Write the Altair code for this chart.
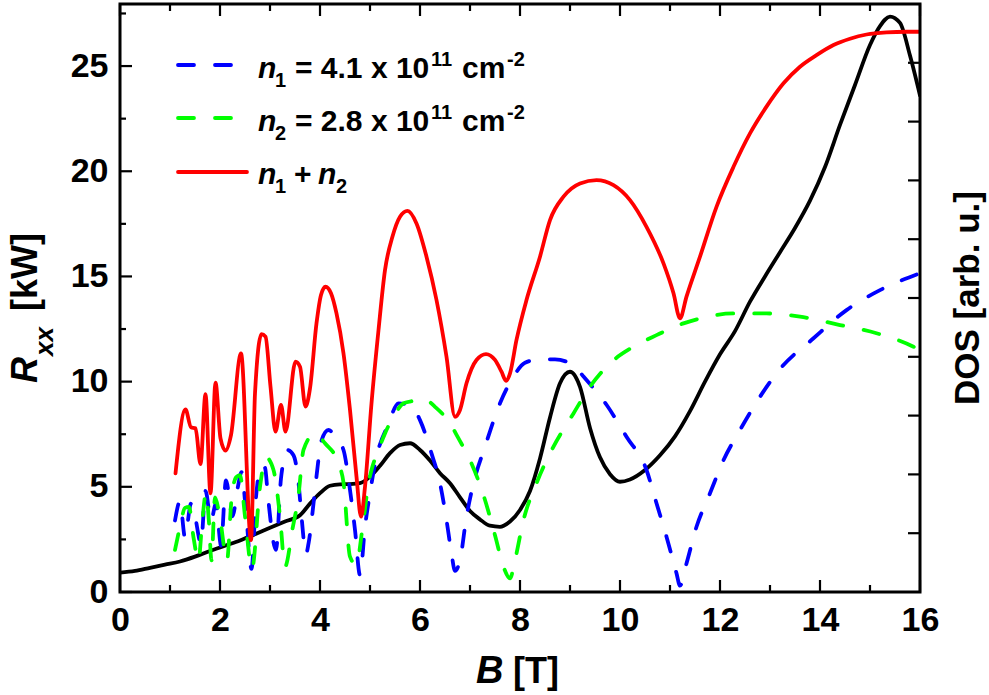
import altair as alt
import pandas as pd

# ---------------- data ----------------
black_B = [0.0, 0.3, 0.6, 0.9, 1.2, 1.5, 1.8, 2.1, 2.4, 2.7, 3.0, 3.3, 3.6, 3.8, 4.0, 4.2, 4.4, 4.6,
           4.8, 5.0, 5.2, 5.4, 5.6, 5.8, 6.0, 6.2, 6.4, 6.6, 6.8, 7.0, 7.2, 7.4, 7.6, 7.8, 8.0, 8.2,
           8.4, 8.6, 8.8, 9.0, 9.2, 9.4, 9.6, 9.8, 10.0, 10.2, 10.5, 10.8, 11.1, 11.4, 11.7, 12.0,
           12.3, 12.6, 12.9, 13.2, 13.5, 13.8, 14.1, 14.4, 14.7, 15.0, 15.2, 15.4, 15.6, 15.8, 16.0]
black_R = [0.92, 1.0, 1.15, 1.3, 1.45, 1.68, 1.95, 2.2, 2.45, 2.75, 3.05, 3.35, 3.65, 4.2, 4.7, 5.05,
           5.12, 5.13, 5.17, 5.48, 6.0, 6.6, 6.99, 7.07, 6.75, 6.25, 5.65, 5.17, 4.5, 3.85, 3.45,
           3.15, 3.1, 3.35, 3.9, 4.8, 6.35, 8.3, 9.92, 10.47, 9.75, 7.8, 6.4, 5.6, 5.24, 5.35, 5.8,
           6.5, 7.4, 8.6, 10.0, 11.3, 12.4, 13.8, 15.0, 16.15, 17.3, 18.6, 20.2, 22.2, 24.1, 26.0,
           26.9, 27.35, 27.05, 25.5, 23.6]

red_B = [1.11, 1.31, 1.42, 1.51, 1.61, 1.71, 1.81, 1.91, 2.01, 2.11, 2.22, 2.42, 2.62, 2.70, 2.83,
         2.91, 3.01, 3.11, 3.22, 3.31, 3.51, 3.60, 3.71, 3.80, 3.93, 4.02, 4.11, 4.22, 4.33, 4.47,
         4.60, 4.73, 4.82, 4.90, 5.03, 5.17, 5.30, 5.45, 5.60, 5.75, 5.93, 6.13, 6.33, 6.53, 6.70,
         6.80, 6.93, 7.13, 7.32, 7.50, 7.63, 7.72, 7.80, 7.93, 8.13, 8.40, 8.60, 8.87, 9.20, 9.53,
         9.87, 10.20, 10.53, 10.87, 11.07, 11.20, 11.33, 11.60, 11.93, 12.27, 12.60, 12.93, 13.27,
         13.60, 13.93, 14.27, 14.60, 14.93, 15.33, 15.73, 16.0]
red_R = [5.64, 8.68, 7.83, 7.78, 6.08, 9.41, 4.69, 9.95, 7.30, 6.72, 7.46, 11.34, 2.47, 9.44, 12.26,
         12.14, 9.76, 7.62, 8.89, 7.62, 10.95, 10.71, 8.81, 9.68, 12.77, 14.12, 14.51, 14.2, 13.24,
         11.34, 8.65, 5.48, 3.58, 5.0, 8.97, 12.45, 15.3, 16.9, 17.84, 18.12, 17.52, 15.94, 13.88,
         11.18, 8.33, 8.65, 9.92, 11.03, 11.31, 11.03, 10.47, 10.04, 10.39, 11.98, 13.88, 15.94,
         17.68, 18.79, 19.42, 19.58, 19.34, 18.63, 17.36, 15.62, 14.2, 13.01, 14.04, 15.94, 18.31,
         20.21, 21.8, 23.07, 24.18, 24.97, 25.52, 26.0, 26.3, 26.5, 26.6, 26.63, 26.63]

blue_B = [1.10, 1.20, 1.30, 1.42, 1.50, 1.62, 1.71, 1.82, 1.92, 2.02, 2.12, 2.25, 2.35, 2.43, 2.52,
          2.63, 2.72, 2.83, 2.90, 2.96, 3.12, 3.22, 3.35, 3.47, 3.57, 3.63, 3.72, 3.77, 3.87, 3.93,
          4.03, 4.17, 4.30, 4.47, 4.60, 4.70, 4.80, 4.90, 5.00, 5.10, 5.37, 5.57, 5.83, 6.00, 6.23,
          6.40, 6.53, 6.63, 6.70, 6.80, 6.93, 7.07, 7.30, 7.60, 7.87, 8.10, 8.40, 8.70, 9.10, 9.27,
          9.73, 10.13, 10.53, 10.73, 10.93, 11.13, 11.20, 11.33, 11.53, 11.80, 12.07, 12.40, 12.80,
          13.20, 13.87, 14.53, 15.20, 16.0]
blue_R = [3.4, 4.3, 2.6, 4.2, 3.6, 2.3, 4.8, 3.4, 4.2, 2.2, 5.3, 3.6, 4.9, 5.7, 3.8, 1.1, 4.5, 6.0,
          5.9, 4.5, 2.0, 5.4, 6.75, 6.5, 5.2, 3.6, 1.8, 2.3, 4.2, 5.5, 7.2, 7.7, 7.4, 6.75, 4.85,
          2.95, 0.8, 3.1, 4.7, 6.1, 8.0, 8.97, 8.85, 8.17, 6.59, 5.17, 3.42, 1.84, 1.0, 1.52, 3.58,
          5.17, 6.91, 8.97, 10.24, 10.9, 11.06, 11.06, 10.71, 10.24, 8.9, 7.38, 5.8, 4.22, 2.63,
          0.89, 0.3, 1.36, 3.1, 4.69, 6.27, 7.7, 9.28, 10.6, 12.06, 13.4, 14.35, 15.15]

green_B = [1.10, 1.20, 1.30, 1.38, 1.47, 1.57, 1.65, 1.72, 1.78, 1.83, 1.90, 2.00, 2.14, 2.23, 2.32,
           2.40, 2.50, 2.64, 2.80, 2.92, 3.07, 3.20, 3.30, 3.45, 3.57, 3.67, 3.90, 4.10, 4.37, 4.47,
           4.60, 4.72, 4.87, 4.97, 5.03, 5.17, 5.30, 5.47, 5.67, 5.90, 6.07, 6.30, 6.60, 6.77, 7.00,
           7.27, 7.50, 7.67, 7.80, 7.90, 8.07, 8.33, 8.67, 9.07, 9.40, 9.80, 10.27, 10.73, 11.27,
           11.60, 12.27, 12.93, 13.60, 14.40, 15.13, 15.87, 16.0]
green_R = [2.0, 3.1, 4.0, 4.05, 2.6, 1.5, 3.5, 4.7, 3.3, 1.5, 4.5, 3.5, 1.5, 4.4, 5.45, 5.55, 3.6,
           1.1, 5.0, 6.4, 5.8, 3.6, 1.2, 3.0, 4.6, 6.75, 7.54, 7.07, 6.1, 5.2, 1.68, 1.3, 3.42, 5.17,
           5.8, 6.75, 7.54, 8.33, 8.97, 9.1, 9.2, 8.8, 8.02, 7.3, 6.27, 4.6, 2.7, 1.2, 0.65, 1.52,
           3.42, 5.17, 6.91, 8.49, 9.76, 10.87, 11.66, 12.21, 12.77, 13.0, 13.24, 13.24, 13.09,
           12.69, 12.3, 11.66, 11.5]

x_major = [0, 2, 4, 6, 8, 10, 12, 14, 16]
x_minor = [1, 3, 5, 7, 9, 11, 13, 15]
y_major = [0, 5, 10, 15, 20, 25]
y_minor = [2.5, 7.5, 12.5, 17.5, 22.5, 27.5]
dos_ticks = [1, 2, 3, 4, 5, 6, 7, 8, 9]

# ---------------- layout ----------------
W, H = 800, 588
FONT = "Liberation Sans"
NARROW = "Liberation Sans Narrow, Arial Narrow, Liberation Sans"
XDOM = [0, 16]
YDOM = [0, 27.95]

def xs():
    return alt.Scale(domain=XDOM, nice=False, zero=False)

def ys():
    return alt.Scale(domain=YDOM, nice=False, zero=False)

def curve(B, R, color, dash=None):
    df = pd.DataFrame({"B": B, "R": R})
    kw = dict(color=color, strokeWidth=3.8, clip=True, strokeCap="round", strokeJoin="round",
              interpolate="monotone")
    if dash:
        kw["strokeDash"] = dash
    return alt.Chart(df).mark_line(**kw).encode(
        x=alt.X("B:Q", scale=xs(), axis=None),
        y=alt.Y("R:Q", scale=ys(), axis=None),
        order=alt.Order("B:Q"),
    )

def txt(s, x, y, size, italic=False, angle=0, align="left", baseline="alphabetic", font=FONT):
    kw = dict(text=s, font=font, fontSize=size, fontWeight="bold", align=align,
              baseline=baseline, color="black")
    if italic:
        kw["fontStyle"] = "italic"
    if angle:
        kw["angle"] = angle
    return alt.Chart(pd.DataFrame({"a": [0]})).mark_text(**kw).encode(
        x=alt.value(x), y=alt.value(y))

def rules(vals, orient, length, on_x):
    df = pd.DataFrame({"v": vals})
    base = alt.Chart(df).mark_rule(color="black", strokeWidth=2.2)
    if on_x:
        enc = dict(x=alt.X("v:Q", scale=xs(), axis=None))
        if orient == "bottom":
            enc.update(y=alt.value(H), y2=alt.value(H - length))
        else:
            enc.update(y=alt.value(0), y2=alt.value(length))
    else:
        enc = dict(y=alt.Y("v:Q", scale=ys(), axis=None))
        if orient == "left":
            enc.update(x=alt.value(0), x2=alt.value(length))
        else:
            enc.update(x=alt.value(W), x2=alt.value(W - length))
    return base.encode(**enc)

axis_common = dict(ticks=False, domain=False, grid=False, title=None,
                   labelFontSize=34, labelFontWeight="bold", labelColor="black", format="d",
                   labelFlush=False, labelOverlap=False)

xlab = alt.Chart(pd.DataFrame({"v": x_major})).mark_point(opacity=0).encode(
    x=alt.X("v:Q", scale=xs(), axis=alt.Axis(values=x_major, labelPadding=11, labelFont=NARROW,
                                            **axis_common)),
)
ylab = alt.Chart(pd.DataFrame({"v": y_major})).mark_point(opacity=0).encode(
    y=alt.Y("v:Q", scale=ys(), axis=alt.Axis(values=y_major, labelPadding=12, labelFont=FONT,
                                            **axis_common)),
)

dos = alt.Chart(pd.DataFrame({"v": dos_ticks})).mark_rule(color="black", strokeWidth=2.2).encode(
    y=alt.Y("v:Q", scale=alt.Scale(domain=[0, 10], nice=False), axis=None),
    x=alt.value(W), x2=alt.value(W - 12),
)

frame = alt.Chart(pd.DataFrame({"a": [0]})).mark_rect(
    fill=None, stroke="black", strokeWidth=3).encode(
    x=alt.value(0), x2=alt.value(W), y=alt.value(0), y2=alt.value(H))

BLUE, GREEN, RED = "#0000ff", "#00ff00", "#ff0000"
DASH = [16, 21]

def legline(color, y, x2, dash=None):
    kw = dict(color=color, strokeWidth=3.8, strokeCap="round")
    if dash:
        kw["strokeDash"] = dash
    return alt.Chart(pd.DataFrame({"a": [0]})).mark_rule(**kw).encode(
        x=alt.value(58), x2=alt.value(x2), y=alt.value(y))

LS, SS = 30, 20
legend = [
    legline(BLUE, 61, 111, DASH), legline(GREEN, 114, 111, DASH), legline(RED, 168, 127),
    txt("n", 138, 73.5, LS, italic=True), txt("1", 155, 82.5, SS),
    txt("= 4.1 x 10", 175, 73.5, LS), txt("11", 311, 62, SS),
    txt("cm", 342, 73.5, LS), txt("-2", 387, 62, SS),
    txt("n", 138, 126.5, LS, italic=True), txt("2", 155, 135.5, SS),
    txt("= 2.8 x 10", 175, 126.5, LS), txt("11", 311, 115, SS),
    txt("cm", 342, 126.5, LS), txt("-2", 387, 115, SS),
    txt("n", 138, 180, LS, italic=True), txt("1", 155, 189, SS),
    txt("+", 174, 180, LS), txt("n", 198, 180, LS, italic=True), txt("2", 216, 189, SS),
]

titles = [
    txt("B", 356, 679, 38, italic=True, font=NARROW),
    txt("[T]", 393, 679, 36, font=NARROW),
    txt("R", -83, 379, 36, italic=True, angle=270),
    txt("xx", -67, 352, 26, italic=True, angle=270),
    txt("[kW]", -83, 307, 36, angle=270),
    txt("DOS [arb. u.]", 859, H / 2, 35, angle=270, align="center"),
]

layers = [xlab, ylab,
          curve(black_B, black_R, "black"),
          curve(blue_B, blue_R, BLUE, DASH),
          curve(green_B, green_R, GREEN, DASH),
          curve(red_B, red_R, RED),
          rules(x_major, "bottom", 12, True), rules(x_minor, "bottom", 7, True),
          rules(x_major, "top", 12, True), rules(x_minor, "top", 7, True),
          rules(y_major, "left", 12, False), rules(y_minor, "left", 6, False),
          dos, frame] + legend + titles

chart = alt.layer(*layers).resolve_scale(x="independent", y="independent").properties(
    width=W, height=H,
    autosize=alt.AutoSizeParams(type="none"),
    padding={"left": 120, "top": 4, "right": 69, "bottom": 103},
).configure_view(stroke=None).configure(background="white")

chart.save("out.html", embed_options={"renderer": "svg", "actions": False})
